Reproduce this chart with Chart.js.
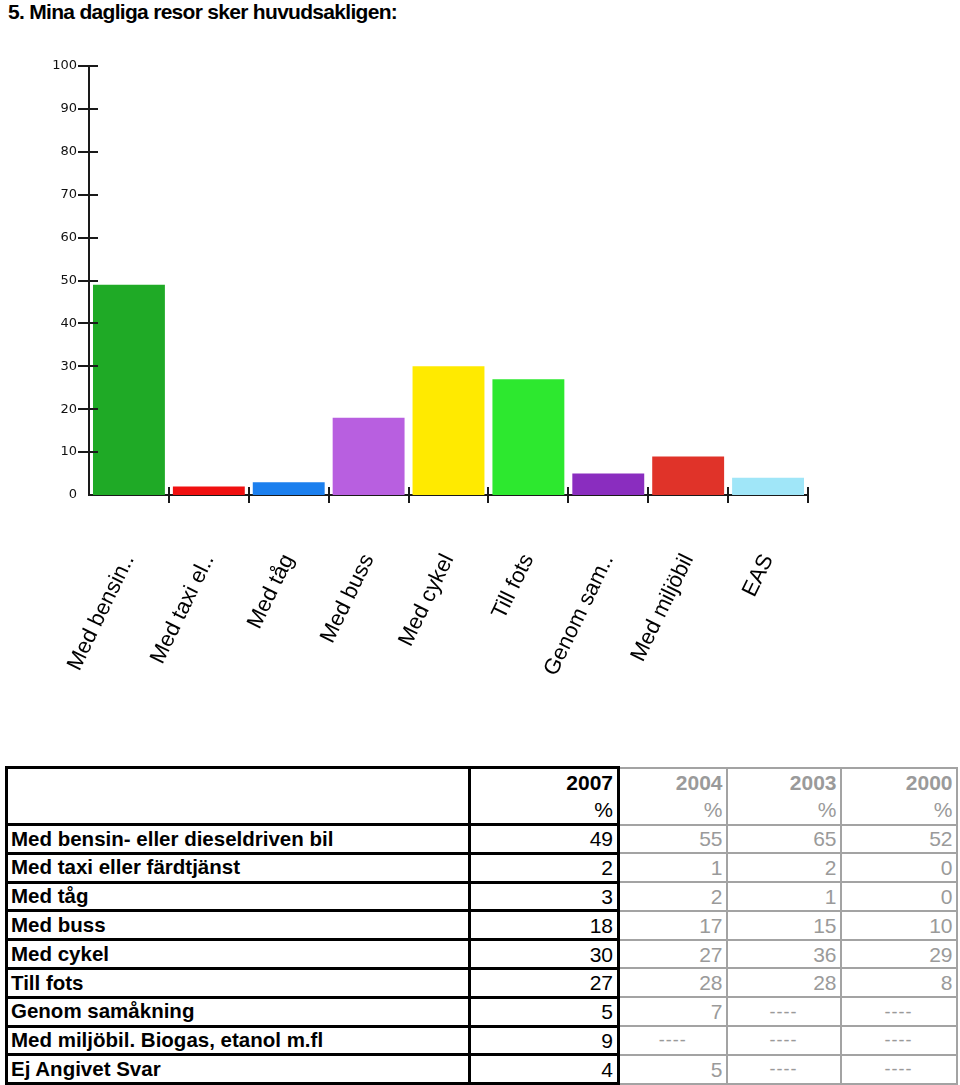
<!DOCTYPE html>
<html><head><meta charset="utf-8">
<script src="https://cdn.jsdelivr.net/npm/chart.js@4.4.0/dist/chart.umd.min.js"></script>
<style>
html,body{margin:0;padding:0;background:#fff;width:960px;height:1085px;overflow:hidden;font-family:"Liberation Sans",Arial,sans-serif;}
#title{position:absolute;left:8px;top:0px;font-size:21px;letter-spacing:-0.7px;font-weight:bold;color:#000;white-space:nowrap;}
#wrap{position:absolute;left:0;top:40px;width:960px;height:680px;}
table{position:absolute;left:5px;top:766px;border-collapse:collapse;table-layout:fixed;font-family:"Liberation Sans",Arial,sans-serif;}
td{padding:0;line-height:1;white-space:nowrap;overflow:hidden;}
td.lab{border:3px solid #000;font-weight:bold;font-size:20.5px;text-align:left;padding-left:3px;color:#000;}
td.c07{border:3px solid #000;text-align:right;padding-right:4px;font-size:21px;color:#000;}
td.old{border:2px solid #a3a3a3;text-align:right;padding-right:3px;font-size:21px;color:#9a9a9a;}
td.dash{text-align:center;padding-right:0;font-size:18px;letter-spacing:1px;}
tr.hd td{vertical-align:top;}
tr.hd div{height:27px;line-height:27px;}
tr.row td{height:25.8px;}
</style>
</head><body>
<div id="title">5. Mina dagliga resor sker huvudsakligen:</div>
<div id="wrap"><canvas id="c" width="960" height="680"></canvas></div>
<table id="tbl"></table>
<script>
// ---- data ----
const categories = ['Med bensin..','Med taxi el..','Med tåg','Med buss','Med cykel','Till fots','Genom sam..','Med miljöbil','EAS'];
const values2007 = [49,2,3,18,30,27,5,9,4];
const rowLabels = ['Med bensin- eller dieseldriven bil','Med taxi eller färdtjänst','Med tåg','Med buss','Med cykel','Till fots','Genom samåkning','Med miljöbil. Biogas, etanol m.fl','Ej Angivet Svar'];
const values2004 = [55,1,2,17,27,28,7,null,5];
const values2003 = [65,2,1,15,36,28,null,null,null];
const values2000 = [52,0,0,10,29,8,null,null,null];
const years = ['2007','2004','2003','2000'];
const yMin = 0, yMax = 100, yStep = 10;

// ---- styles ----
const barColors = ['#1faa26','#f01010','#1b7fee','#b85fe0','#ffea00','#2de82f','#8a2dbf','#e03329','#a0e6f8'];

// ---- table ----
const tbl = document.getElementById('tbl');
const colW = [463,149,108,114,116];
let cg = '<colgroup>' + colW.map(w=>'<col style="width:'+w+'px">').join('') + '</colgroup>';
let html = cg + '<tr class="hd"><td class="lab"></td>';
years.forEach((y,i)=>{
  const cls = i===0 ? 'c07' : 'old';
  html += '<td class="'+cls+'"><div><b>'+y+'</b></div><div>%</div></td>';
});
html += '</tr>';
const fmt = v => v===null ? '----' : String(v);
rowLabels.forEach((lab,i)=>{
  html += '<tr class="row"><td class="lab">'+lab+'</td>';
  html += '<td class="c07">'+fmt(values2007[i])+'</td>';
  [values2004,values2003,values2000].forEach(arr=>{
    const v = arr[i];
    html += '<td class="old'+(v===null?' dash':'')+'">'+fmt(v)+'</td>';
  });
  html += '</tr>';
});
tbl.innerHTML = html;

// ---- chart ----
const tickMarks = {
  id:'tickMarks',
  afterDraw(chart){
    const ctx = chart.ctx, xs = chart.scales.x, ys = chart.scales.y;
    ctx.save();
    ctx.strokeStyle = '#1a1a1a';
    ctx.lineWidth = 2;
    ys.ticks.forEach((t,i)=>{
      if (t.value === 0) return;
      const py = Math.round(ys.getPixelForTick(i));
      ctx.beginPath(); ctx.moveTo(ys.right-11, py); ctx.lineTo(ys.right+9, py); ctx.stroke();
    });
    for (let i=1;i<=xs.ticks.length;i++){
      const px = Math.round(xs.getPixelForValue(i-0.5));
      ctx.beginPath(); ctx.moveTo(px, xs.top-8); ctx.lineTo(px, xs.top+8); ctx.stroke();
    }
    ctx.restore();
  }
};

new Chart(document.getElementById('c'), {
  type:'bar',
  data:{
    labels:categories,
    datasets:[{data:values2007, backgroundColor:barColors, borderWidth:0, barPercentage:0.9, categoryPercentage:1}]
  },
  options:{
    responsive:false,
    animation:false,
    devicePixelRatio:1,
    layout:{padding:{top:26,right:152,left:0,bottom:0}},
    plugins:{legend:{display:false},tooltip:{enabled:false},title:{display:false}},
    scales:{
      x:{
        grid:{display:false,drawTicks:false},
        border:{display:true,color:'#1a1a1a',width:2},
        ticks:{color:'#000',font:{family:'"Liberation Sans", Arial, sans-serif',size:22},minRotation:64,maxRotation:64,autoSkip:false,padding:55},
        afterFit(s){ s.height = 225; }
      },
      y:{
        min:yMin,max:yMax,
        grid:{display:false,drawTicks:false},
        border:{display:true,color:'#1a1a1a',width:2},
        ticks:{stepSize:yStep,color:'#111',font:{family:'"DejaVu Sans", Verdana, sans-serif',size:13},padding:12},
        afterFit(s){ s.width = 89; }
      }
    }
  },
  plugins:[tickMarks]
});
</script>
</body></html>
